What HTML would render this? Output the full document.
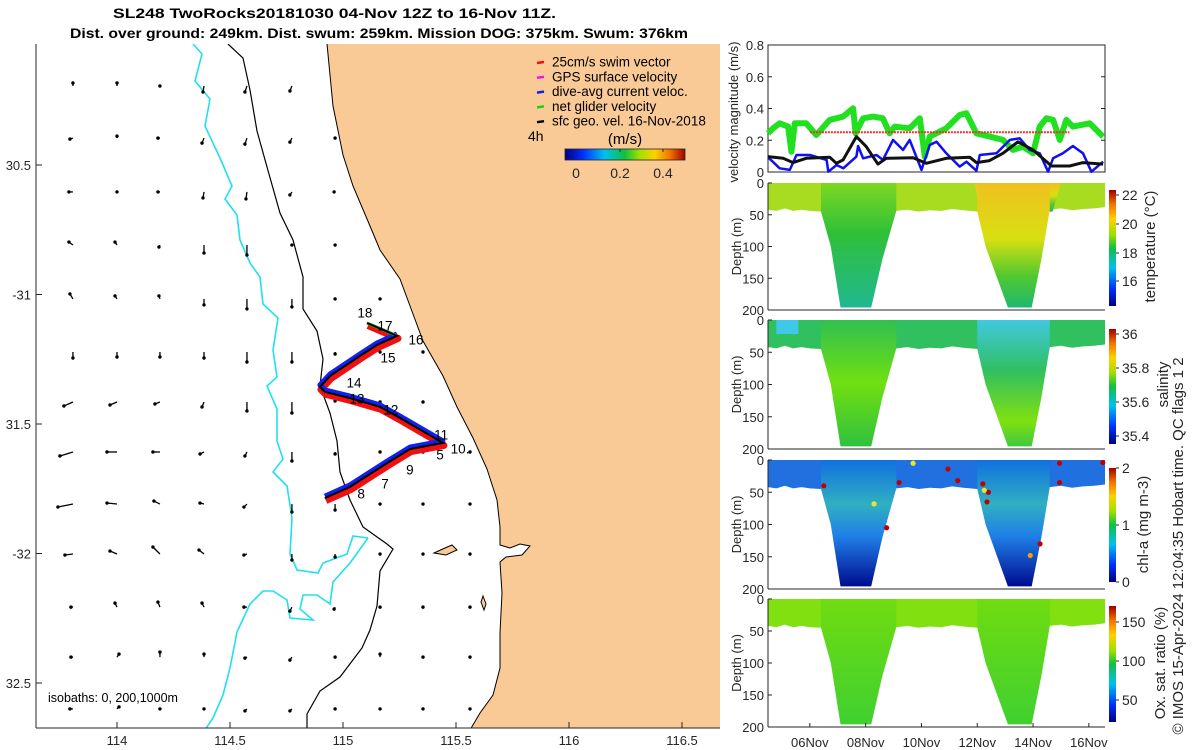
<!DOCTYPE html>
<html><head><meta charset="utf-8">
<style>
html,body{margin:0;padding:0;background:#fff;}
svg{display:block;font-family:"Liberation Sans",sans-serif;}
</style></head>
<body>
<svg id="root" width="1200" height="750" viewBox="0 0 1200 750" xmlns="http://www.w3.org/2000/svg">
<defs>
<linearGradient id="jetH" x1="0" x2="1" y1="0" y2="0">
<stop offset="0" stop-color="#000080"/><stop offset="0.15" stop-color="#0030ff"/><stop offset="0.33" stop-color="#00c0f0"/><stop offset="0.5" stop-color="#10c040"/><stop offset="0.62" stop-color="#a0e000"/><stop offset="0.75" stop-color="#ffd000"/><stop offset="0.88" stop-color="#f07000"/><stop offset="1" stop-color="#a00000"/>
</linearGradient>
<linearGradient id="jetV" x1="0" x2="0" y1="1" y2="0">
<stop offset="0" stop-color="#000080"/><stop offset="0.15" stop-color="#0030ff"/><stop offset="0.33" stop-color="#00c0f0"/><stop offset="0.5" stop-color="#10c040"/><stop offset="0.62" stop-color="#a0e000"/><stop offset="0.75" stop-color="#ffd000"/><stop offset="0.88" stop-color="#f07000"/><stop offset="1" stop-color="#a00000"/>
</linearGradient>
<linearGradient id="tV1" x1="0" x2="0" y1="0" y2="1"><stop offset="0" stop-color="#7cd820"/><stop offset="0.4" stop-color="#30c038"/><stop offset="1" stop-color="#20b890"/></linearGradient>
<linearGradient id="tV2" x1="0" x2="0" y1="0" y2="1"><stop offset="0" stop-color="#f0c020"/><stop offset="0.45" stop-color="#d8e010"/><stop offset="0.75" stop-color="#50c830"/><stop offset="1" stop-color="#20b870"/></linearGradient>
<linearGradient id="sV1" x1="0" x2="0" y1="0" y2="1"><stop offset="0" stop-color="#30c050"/><stop offset="0.5" stop-color="#70e010"/><stop offset="1" stop-color="#30c040"/></linearGradient>
<linearGradient id="sV2" x1="0" x2="0" y1="0" y2="1"><stop offset="0" stop-color="#40c8e0"/><stop offset="0.4" stop-color="#30c060"/><stop offset="0.8" stop-color="#80e010"/><stop offset="1" stop-color="#40c840"/></linearGradient>
<linearGradient id="cV" x1="0" x2="0" y1="0" y2="1"><stop offset="0" stop-color="#1070e0"/><stop offset="0.35" stop-color="#30b0c0"/><stop offset="0.6" stop-color="#2080e8"/><stop offset="1" stop-color="#000c90"/></linearGradient>
<linearGradient id="oV" x1="0" x2="0" y1="0" y2="1"><stop offset="0" stop-color="#70dc10"/><stop offset="1" stop-color="#40d030"/></linearGradient>
<clipPath id="mapclip"><rect x="36" y="44" width="684" height="684"/></clipPath>
</defs>
<g id="map" clip-path="url(#mapclip)"></g>
<g id="mapfg"></g>
<g id="right"></g>
</svg>
<script>
// ---------------- DATA ----------------
const blackDays=[4.5,5.04,5.4,5.87,6.71,6.95,7.19,7.67,8.02,8.44,8.74,9.7,10.17,10.89,11.73,11.97,12.44,12.92,13.46,14.0,14.66,15.31,15.79,16.51];
const blackVals=[0.097,0.086,0.059,0.086,0.093,0.055,0.076,0.223,0.16,0.05,0.086,0.09,0.055,0.086,0.093,0.059,0.072,0.118,0.19,0.139,0.038,0.038,0.059,0.05];
const blueDays=[4.5,4.92,5.28,5.52,6.0,6.6,6.66,6.96,7.2,7.67,7.73,7.91,8.39,8.62,8.98,9.34,9.58,10.0,10.3,10.54,10.89,11.37,11.61,11.97,12.09,12.69,13.17,13.52,13.88,14.24,14.54,14.72,15.07,15.43,15.79,16.09,16.51];
const blueVals=[0.093,0.023,0.013,0.107,0.107,0.076,0.002,0.044,0.023,0.097,0.164,0.086,0.107,0.076,0.202,0.139,0.202,0.013,0.17,0.191,0.118,0.034,0.065,0.008,0.107,0.118,0.202,0.212,0.139,0.118,0.002,0.086,0.118,0.164,0.118,0.002,0.065];
const greenDays=[4.5,4.68,4.92,5.22,5.34,5.46,5.87,6.23,6.71,7.19,7.55,7.64,7.91,8.27,8.62,8.86,9.04,9.58,9.94,10.12,10.3,10.89,11.37,11.61,11.97,12.45,12.92,13.28,13.64,14.0,14.24,14.48,14.72,14.96,15.19,15.43,16.03,16.51];
const greenVals=[0.244,0.275,0.307,0.286,0.128,0.307,0.307,0.233,0.328,0.349,0.401,0.244,0.338,0.349,0.338,0.244,0.286,0.275,0.338,0.097,0.223,0.275,0.359,0.37,0.244,0.223,0.202,0.139,0.16,0.118,0.286,0.338,0.328,0.202,0.328,0.286,0.307,0.223];
const swimDays=[6.0,15.3];
const swimVals=[0.25,0.25];
const velTicks=[0,0.2,0.4,0.6,0.8];
const depthTicks=[0,50,100,150,200];
const dateTicks=[6,8,10,12,14,16];
const dateLabels=["06Nov","08Nov","10Nov","12Nov","14Nov","16Nov"];
const shallowDays=[4.5,4.8,5.1,5.4,5.7,6.0,6.4,9.1,9.5,9.9,10.3,10.7,11.1,11.5,12.0,14.6,15.0,15.4,15.8,16.2,16.58];
const shallowDepth=[42,44,40,44,42,44,45,44,42,45,43,44,41,43,45,42,40,43,41,40,38];
const v1Days=[6.4,6.75,7.1,8.2,8.6,9.1];
const v1Depth=[45,100,196,196,120,44];
const v2Days=[12.0,12.3,13.1,13.95,14.3,14.6];
const v2Depth=[45,100,196,196,120,42];
const chlDays=[6.5,9.2,10.95,11.3,12.2,12.4,12.35,14.95,14.95,16.5,8.75,14.25,8.3,9.7,13.9,12.25];
const chlDepth=[40,35,14,32,37,50,65,5,35,4,105,130,68,5,148,47];
const chlVals=[2,2,2,2,2,2,2,2,2,2,2,2,1.5,1.5,1.7,1.5];
const lonTicks=[114,114.5,115,115.5,116,116.5];
const latTicks=[30.5,31,31.5,32,32.5];
const latLabels=["30.5","-31","31.5","-32","32.5"];
const qLats=[30.195,30.396,30.604,30.809,31.017,31.222,31.415,31.608,31.809,32.002,32.207,32.400,32.600];
const qLons=[113.805,114.0,114.19,114.385,114.575,114.774,114.965,115.164,115.354,115.562];
const qU=[
[0,0,0,-1,-2,-2,0,0,0,0],
[-3,0,-2,-2,-2,-2,0,0,0,0],
[-4,0,-2,-1,-1,-2,-1,0,0,0],
[-4,-2,-1,0,0,0,0,-1,0,0],
[-3,-2,-1,0,0,0,0,0,0,0],
[0,0,0,0,0,0,0,0,0,0],
[-9,-7,-5,-2,0,0,0,0,0,0],
[-13,-10,-7,-4,-2,0,0,0,0,0],
[-15,-10,-6,-4,-3,0,0,0,0,0],
[-8,-7,-7,-5,-3,0,0,0,0,0],
[-2,-2,-2,-2,-3,-2,-1,0,0,0],
[-2,2,0,0,-2,-2,0,0,0,0],
[-3,2,0,0,-2,-2,0,0,0,0]];
const qV=[
[-3,-3,0,6,6,5,0,0,0,0],
[1,-2,0,5,6,4,0,0,0,0],
[0,0,0,6,7,3,0,0,0,0],
[-3,-3,2,8,10,0,0,0,0,0],
[-5,-3,-3,6,10,8,0,0,0,0],
[6,5,5,6,10,10,2,0,0,0],
[4,3,2,5,9,11,-1,0,0,0],
[4,0,0,2,4,9,2,0,0,0],
[3,-1,-3,-1,3,8,6,0,0,0],
[1,-3,-7,-4,1,6,3,0,0,0],
[0,-4,-5,-4,0,4,2,0,0,0],
[0,-3,-5,-3,1,3,0,-3,0,0],
[0,-2,0,0,2,2,0,0,0,0]];
const trackLon=[114.920,115.031,115.195,115.296,115.442,115.252,115.164,115.031,114.920,114.898,114.942,115.075,115.150,115.239,115.106];
const trackLat=[31.786,31.743,31.651,31.597,31.573,31.477,31.434,31.400,31.376,31.357,31.315,31.237,31.195,31.160,31.110];
const wpLabels=["18","17","16","15","14","13","12","11","10.","5","9","7","8"];
const wpLon=[115.097,115.186,115.323,115.199,115.049,115.062,115.212,115.434,115.518,115.429,115.296,115.186,115.080];
const wpLat=[31.069,31.120,31.174,31.243,31.340,31.402,31.444,31.541,31.595,31.618,31.676,31.730,31.768];

// ---------------- HELPERS ----------------
const NS="http://www.w3.org/2000/svg";
function mk(tag,parent,attrs){const e=document.createElementNS(NS,tag);for(const k in attrs)e.setAttribute(k,attrs[k]);parent.appendChild(e);return e;}
const root=document.getElementById('root');
const mapG=document.getElementById('map');
const mapFg=document.getElementById('mapfg');
const right=document.getElementById('right');
function lx(lon){return 117+(lon-114)*226;}
function ly(lat){return 165+(lat-30.5)*259;}
function txt(parent,x,y,s,opt){const t=mk('text',parent,Object.assign({x:x,y:y,'font-size':13,fill:'#262626'},opt||{}));t.textContent=s;return t;}
function poly(pts){return pts.map(p=>p[0].toFixed(1)+','+p[1].toFixed(1)).join(' ');}

// ---------------- TITLE ----------------
let t=txt(root,113,18,"SL248 TwoRocks20181030 04-Nov 12Z to 16-Nov 11Z.",{'font-weight':'bold',fill:'#000','font-size':14,textLength:443,lengthAdjust:'spacingAndGlyphs'});


t=txt(root,70,38,"Dist. over ground: 249km. Dist. swum: 259km. Mission DOG: 375km. Swum: 376km",{'font-weight':'bold',fill:'#000','font-size':14,textLength:618,lengthAdjust:'spacingAndGlyphs'});



// ---------------- MAP ----------------
const coast=[[327,44],[333,106],[343,155],[353,186],[370,226],[380,250],[400,279],[413,314],[423,341],[443,376],[457,407],[473,438],[487,469],[497,500],[500,527],[500,545],[510,548],[520,544],[530,546],[522,555],[506,557],[500,562],[502,593],[500,633],[500,668],[493,695],[480,713],[470,730]];
let land=mk('polygon',mapG,{points:poly(coast.concat([[725,730],[725,40],[327,40]])),fill:'#f9c996',stroke:'#000','stroke-width':1});


let isl=mk('path',mapG,{d:'M434,553 L445,548 L452,545 L457,550 L446,555 Z M483,596 L486,604 L484,610 L481,602 Z',fill:'#f9c996',stroke:'#000','stroke-width':1});


const iso200=[[228,44],[243,58],[250,90],[257,131],[267,167],[280,213],[293,240],[303,277],[303,309],[317,331],[323,359],[320,386],[330,413],[337,441],[340,472],[350,500],[363,527],[387,544],[393,549],[380,571],[377,606],[370,630],[362,648],[340,677],[320,691],[307,714],[307,730]];
let ib=mk('polyline',mapG,{points:poly(iso200),fill:'none',stroke:'#000','stroke-width':1.2});


const iso1000a=[[193,44],[202,54],[195,81],[210,99],[205,126],[220,158],[232,186],[225,199],[237,215],[240,240],[250,263],[260,277],[263,304],[278,318],[273,350],[277,377],[267,386],[277,409],[277,441],[283,459],[273,472],[287,486],[292,518],[290,554],[297,570],[318,573],[323,563],[347,554],[353,536],[368,538]];
const iso1000b=[[368,538],[350,563],[333,582],[330,604],[317,595],[303,595],[300,609],[313,620],[290,618],[287,600],[273,591],[263,591],[250,604],[237,632],[230,668],[223,695],[213,718],[205,730]];
let c1=mk('polyline',mapG,{points:poly(iso1000a),fill:'none',stroke:'#20e0f0','stroke-width':1.6});


let c2=mk('polyline',mapG,{points:poly(iso1000b),fill:'none',stroke:'#20e0f0','stroke-width':1.6});


function coastX(y){for(let i=0;i<coast.length-1;i++){if(y>=coast[i][1]&&y<=coast[i+1][1]){const f=(y-coast[i][1])/((coast[i+1][1]-coast[i][1])||1);return coast[i][0]+f*(coast[i+1][0]-coast[i][0]);}}return 500;}
const qG=mk('g',mapG,{});


qLats.forEach((lat,r)=>{qLons.forEach((lon,c)=>{const x=lx(lon),y=ly(lat);if(x>coastX(y)-4)return;const u=qU[r][c],v=qV[r][c];
 const l=mk('line',qG,{x1:x,y1:y,x2:x+u,y2:y+v,stroke:'#000','stroke-width':1.3});
 
 
 const d=mk('circle',qG,{cx:x+u,cy:y+v,r:1.7,fill:'#000'});
 
 });});
const tp=trackLon.map((lo,i)=>[lx(lo),ly(trackLat[i])]);
let tr=mk('polyline',mapG,{points:poly(tp.map(p=>[p[0]+1,p[1]+2.5])),fill:'none',stroke:'#f01010','stroke-width':7,'stroke-linejoin':'round'});


let tb=mk('polyline',mapG,{points:poly(tp.slice(0,14).map(p=>[p[0],p[1]-2])),fill:'none',stroke:'#1020f0','stroke-width':5,'stroke-linejoin':'round'});


let tg=mk('polyline',mapG,{points:poly(tp.slice(13)),fill:'none',stroke:'#20d020','stroke-width':3});


let tk=mk('polyline',mapG,{points:poly(tp),fill:'none',stroke:'#000','stroke-width':2});


wpLabels.forEach((s,i)=>{const w=txt(mapG,lx(wpLon[i]),ly(wpLat[i])+5,s,{'text-anchor':'middle',fill:'#000','font-size':13.5});
 
 });
let axL=mk('line',mapFg,{x1:36,y1:44,x2:36,y2:728,stroke:'#262626','stroke-width':1});


let axB=mk('line',mapFg,{x1:36,y1:728,x2:720,y2:728,stroke:'#262626','stroke-width':1});


lonTicks.forEach(lo=>{const x=lx(lo);mk('line',mapFg,{x1:x,y1:728,x2:x,y2:722,stroke:'#262626'});
 const l=txt(mapFg,x,745,String(lo),{'text-anchor':'middle'});
 
 });
latTicks.forEach((la,i)=>{const y=ly(la);mk('line',mapFg,{x1:36,y1:y,x2:42,y2:y,stroke:'#262626'});
 const l=txt(mapFg,31,y+5,latLabels[i],{'text-anchor':'end'});
 
 });
t=txt(mapFg,48,702,"isobaths: 0, 200,1000m",{'font-size':12.5,fill:'#000'});


const legColors=['#f01010','#f010f0','#1020f0','#20d020','#000'];
const legText=['25cm/s swim vector','GPS surface velocity','dive-avg current veloc.','net glider velocity','sfc geo. vel. 16-Nov-2018'];
legText.forEach((s,i)=>{const y=62+i*14.8;
 const m=mk('line',mapFg,{x1:537,y1:y+1,x2:544,y2:y,stroke:legColors[i],'stroke-width':2.5});
 
 
 const l=txt(mapFg,552,y+4.5,s,{fill:'#000','font-size':13.5});
 
 });
t=txt(mapFg,528,141,"4h",{fill:'#000','font-size':14});


t=txt(mapFg,625,144,"(m/s)",{'text-anchor':'middle','font-size':15,fill:'#000'});


let cb=mk('rect',mapFg,{x:565,y:149,width:120,height:11,fill:'url(#jetH)',stroke:'#262626','stroke-width':0.8});


[[0,576],[0.2,620],[0.4,663]].forEach(p=>{mk('line',mapFg,{x1:p[1],y1:149,x2:p[1],y2:152,stroke:'#262626'});
 const l=txt(mapFg,p[1],178,String(p[0]),{'text-anchor':'middle','font-size':14});
 
 });

// ---------------- RIGHT PANELS ----------------
const X0=768,X1=1105,D0=4.5,PXD=27.9;
function dx(d){return X0+(d-D0)*PXD;}
const vTop=45,vBot=172;
function vy(v){return vBot-(v/0.8)*(vBot-vTop);}
const vG=mk('g',right,{});


mk('rect',vG,{x:X0,y:vTop,width:X1-X0,height:vBot-vTop,fill:'#fff',stroke:'#262626','stroke-width':1});
velTicks.forEach(v=>{const y=vy(v);mk('line',vG,{x1:X0,y1:y,x2:X0+4,y2:y,stroke:'#262626'});mk('line',vG,{x1:X1,y1:y,x2:X1-4,y2:y,stroke:'#262626'});
 const l=txt(vG,764,y+5,String(v),{'text-anchor':'end'});
 
 });
function series(days,vals,color,w,dash){const p=mk('polyline',vG,{points:poly(days.map((d,i)=>[dx(d),vy(vals[i])])),fill:'none',stroke:color,'stroke-width':w,'stroke-linejoin':'round'});if(dash)p.setAttribute('stroke-dasharray',dash);return p;}
let s1=series(greenDays,greenVals,'#20e020',6);


let s2=series(swimDays,swimVals,'#f03030',2,'2 1');


let s3=series(blueDays,blueVals,'#1010f0',2.5);


let s4=series(blackDays,blackVals,'#111',3);


t=txt(vG,0,0,"velocity magnitude (m/s)",{'text-anchor':'middle',transform:'translate(738,112) rotate(-90)'});



const panels=[
 {top:183,bot:310,name:'temperature',shallow:'#a8dc20',v1:'url(#tV1)',v2:'url(#tV2)',label:'temperature (°C)',lx:1150,cbTop:190,cbBot:306,ticks:[[22,195],[20,224],[18,253],[16,281]]},
 {top:320,bot:449,name:'salinity',shallow:'#30c060',v1:'url(#sV1)',v2:'url(#sV2)',label:'salinity',lx:1163,cbTop:329,cbBot:444,ticks:[[36,334],[35.8,368],[35.6,402],[35.4,436]]},
 {top:460,bot:589,name:'chlorophyll',shallow:'#2070e0',v1:'url(#cV)',v2:'url(#cV)',label:'chl-a (mg m-3)',lx:1143,cbTop:468,cbBot:582,ticks:[[2,468],[1,525],[0,582]]},
 {top:599,bot:727,name:'oxygen-saturation',shallow:'#80e010',v1:'url(#oV)',v2:'url(#oV)',label:'Ox. sat. ratio (%)',lx:1160,cbTop:606,cbBot:722,ticks:[[150,622],[100,661],[50,700]]}
];
panels.forEach((P,pi)=>{
 const g=mk('g',right,{});
 
 
 const dy=d=>P.top+(d/200)*(P.bot-P.top);
 const sh=shallowDays.map((d,i)=>[dx(d),dy(shallowDepth[i])]);
 const shp=[[dx(4.5),P.top]].concat(sh).concat([[dx(16.58),P.top]]);
 const a=mk('polygon',g,{points:poly(shp),fill:P.shallow});
 
 
 if(pi===0){const w=mk('polygon',g,{points:poly([[dx(11.9),P.top],[dx(15.0),P.top],[dx(14.7),dy(45)],[dx(12.1),dy(45)]]),fill:'url(#tV2)'});
  
  }
 if(pi===1){const w=mk('rect',g,{x:dx(4.8),y:P.top,width:22,height:14,fill:'#40c8e8'});
  
  
  const w2=mk('polygon',g,{points:poly([[dx(12.0),P.top],[dx(14.5),P.top],[dx(14.0),dy(60)],[dx(12.6),dy(60)]]),fill:'#40c8e0'});
  
  }
 [[v1Days,v1Depth,P.v1],[v2Days,v2Depth,P.v2]].forEach(([ds,dp,f])=>{
  const pts=[[dx(ds[0]),P.top]].concat(ds.map((d,i)=>[dx(d),dy(dp[i])])).concat([[dx(ds[ds.length-1]),P.top]]);
  const vp=mk('polygon',g,{points:poly(pts),fill:f});
  
  });
 if(pi===2){chlDays.forEach((d,i)=>{const c=mk('circle',g,{cx:dx(d),cy:dy(chlDepth[i]),r:2.6,fill:chlVals[i]>=2?'#c00000':(chlVals[i]>=1.6?'#f0a000':'#e8e820')});
  
  });}
 mk('line',g,{x1:X0,y1:P.top,x2:X0,y2:P.bot,stroke:'#262626'});
 mk('line',g,{x1:X0,y1:P.bot,x2:X1,y2:P.bot,stroke:'#262626'});
 depthTicks.forEach(d=>{const y=dy(d);mk('line',g,{x1:X0,y1:y,x2:X0+4,y2:y,stroke:'#262626'});
  const l=txt(g,764,y+5,String(d),{'text-anchor':'end'});
  
  });
 const yt=txt(g,0,0,"Depth (m)",{'text-anchor':'middle',transform:'translate(741,'+((P.top+P.bot)/2)+') rotate(-90)'});
 
 
 const cbr=mk('rect',g,{x:1109,y:P.cbTop,width:7,height:P.cbBot-P.cbTop,fill:'url(#jetV)'});
 
 
 P.ticks.forEach(tk=>{mk('line',g,{x1:1116,y1:tk[1],x2:1119,y2:tk[1],stroke:'#262626'});
  const l=txt(g,1122,tk[1]+5,String(tk[0]),{'font-size':14});
  
  });
 const cl=txt(g,0,0,P.label,{'text-anchor':'middle','font-size':15,transform:'translate('+(P.lx+5)+','+((P.top+P.bot)/2)+') rotate(-90)'});
 
 
});
dateTicks.forEach((d,i)=>{const x=dx(d);mk('line',right,{x1:x,y1:727,x2:x,y2:723,stroke:'#262626'});
 const l=txt(right,x,747,dateLabels[i],{'text-anchor':'middle'});
 
 });
t=txt(right,0,0,"© IMOS 15-Apr-2024 12:04:35 Hobart time. QC flags 1  2",{'text-anchor':'middle','font-size':15,transform:'translate(1183,546) rotate(-90)'});


</script>
</body></html>
